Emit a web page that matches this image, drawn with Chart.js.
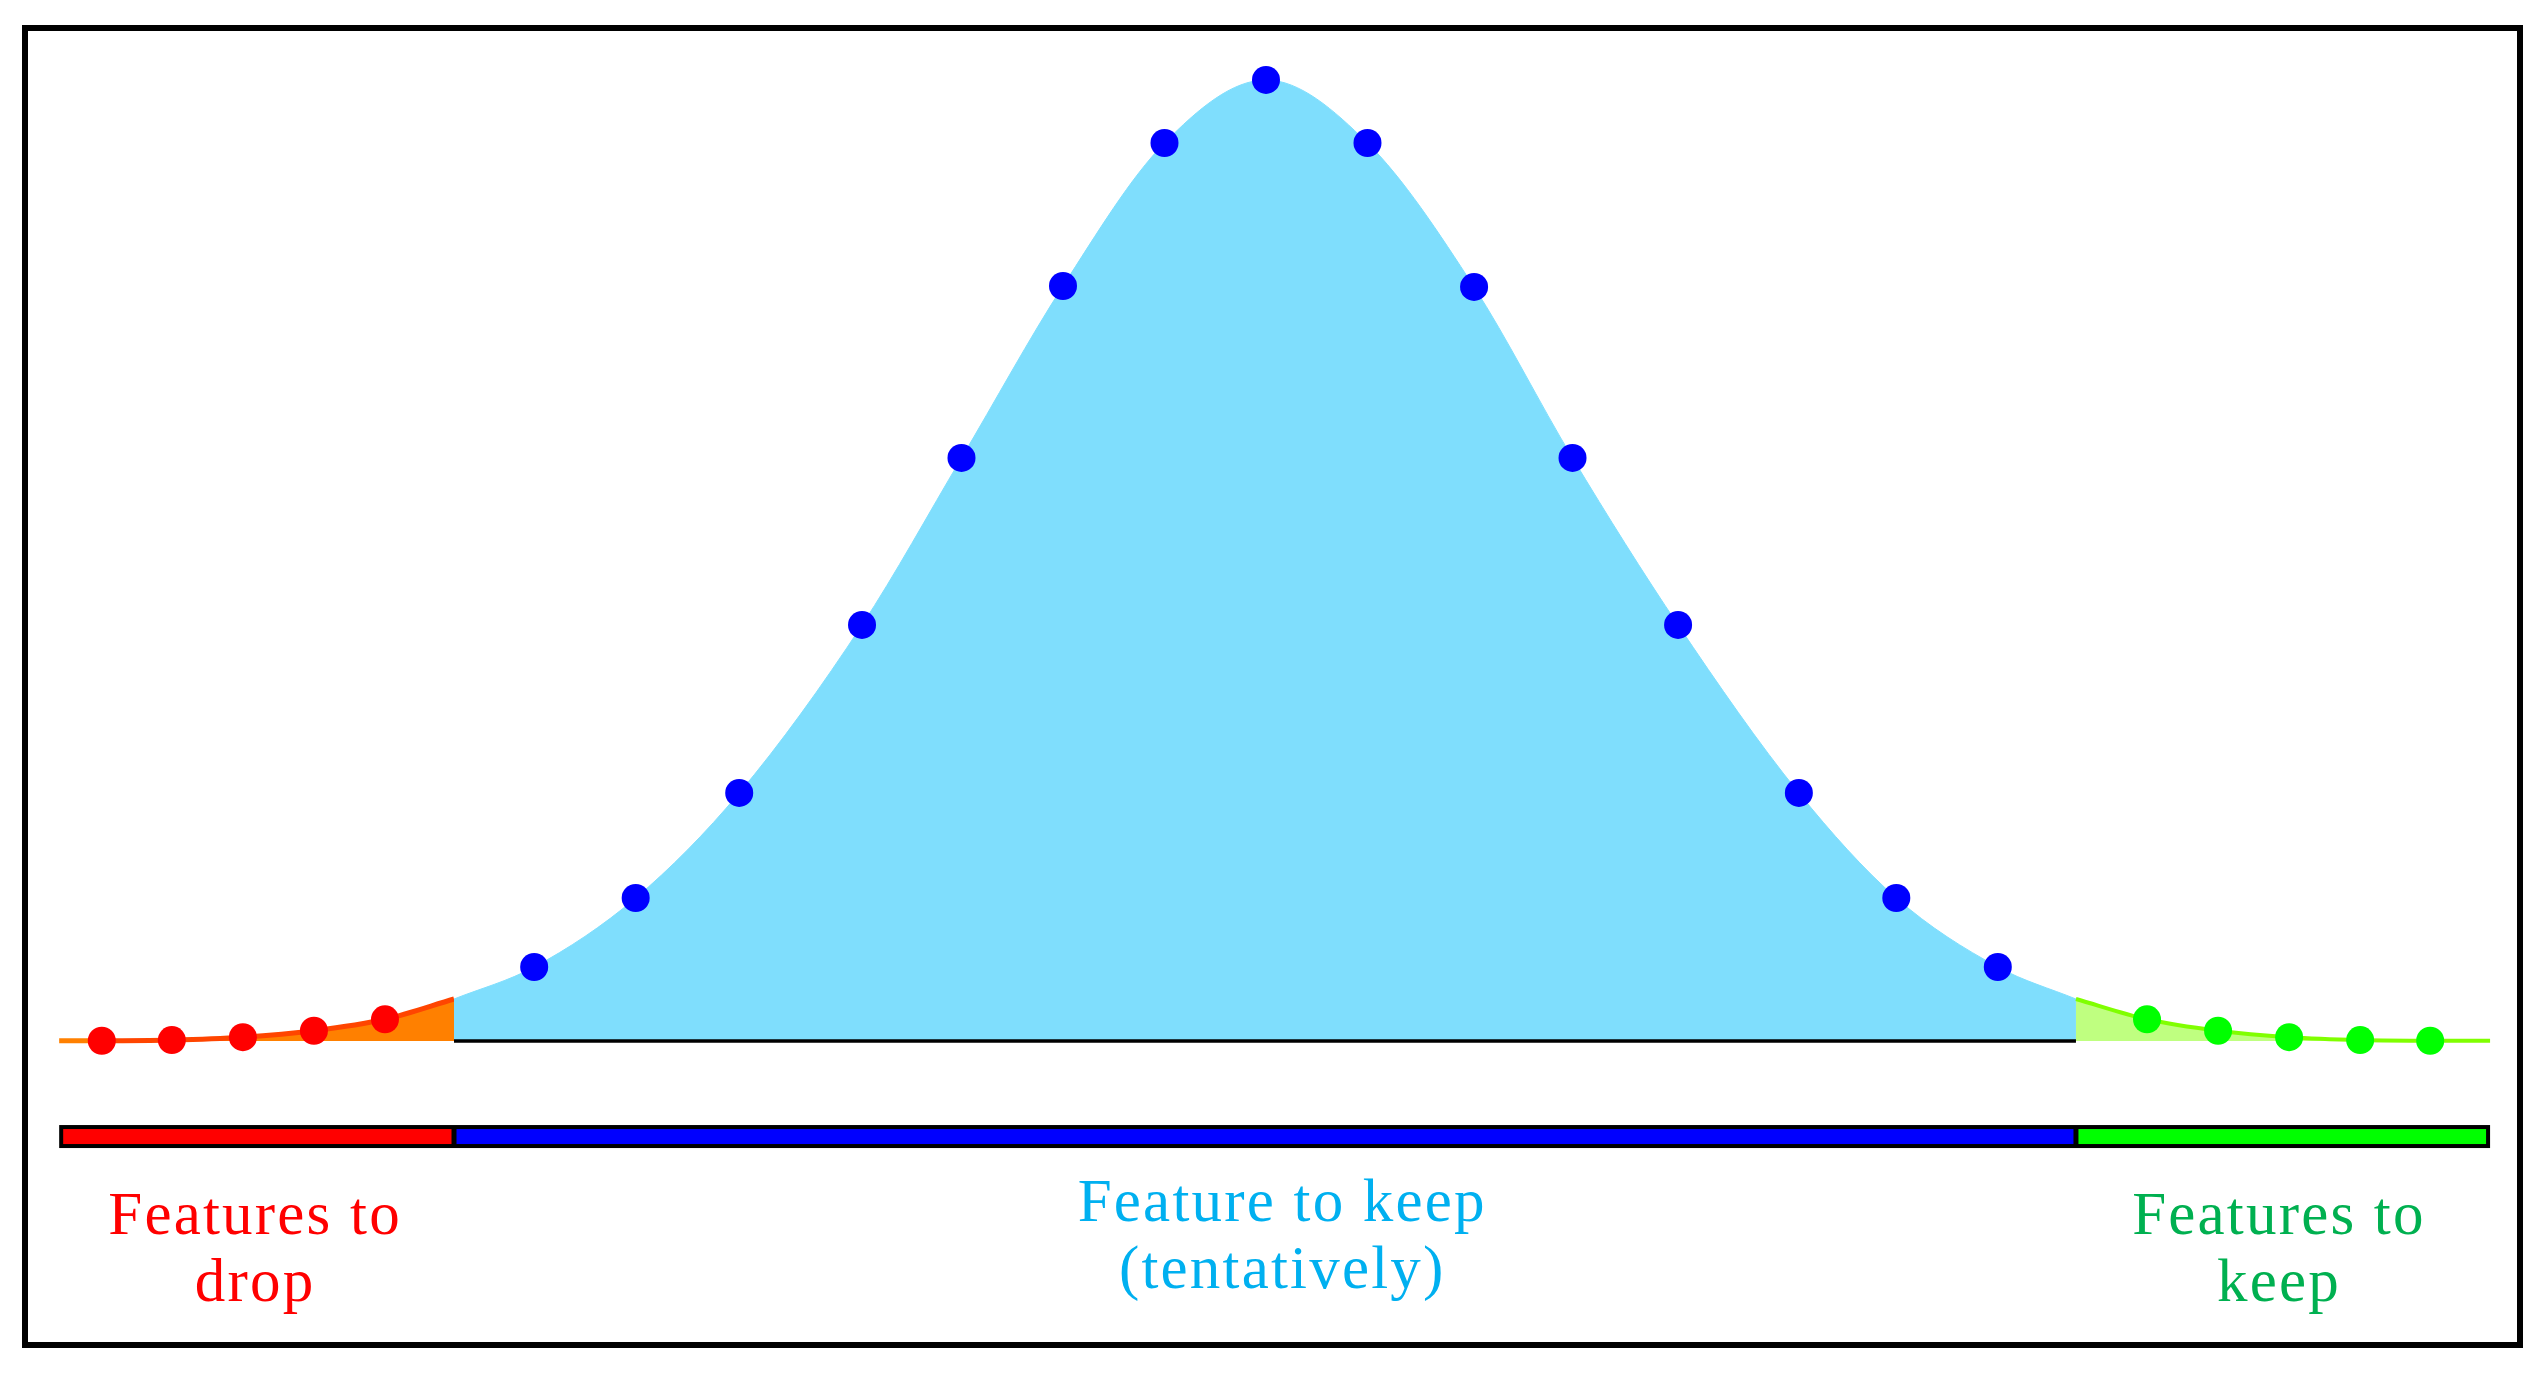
<!DOCTYPE html>
<html><head><meta charset="utf-8">
<script src="https://cdn.jsdelivr.net/npm/chart.js@4/dist/chart.umd.min.js"></script>
<style>
html,body{margin:0;padding:0;background:#fff;overflow:hidden}
#wrap{position:relative;width:2546px;height:1377px}
#frame{position:absolute;left:22px;top:25px;width:2489px;height:1311px;border:6px solid #000;pointer-events:none}
canvas{position:absolute;left:0;top:0}
</style></head>
<body><div id="wrap"><canvas id="c" width="2546" height="1377"></canvas><div id="frame"></div></div>
<script>
// ---- data (x: position along the feature scale, y: relative height, peak = 100)
const redX   = [-11.47, -10.78, -10.08, -9.38, -8.68];
const redY   = [0.03, 0.10, 0.40, 1.07, 2.26];
const blueX  = [-7.21, -6.21, -5.19, -3.98, -3.00, -2.00, -1.00, 0, 1.00, 2.05, 3.02, 4.06, 5.25, 6.21, 7.21];
const blueY  = [7.70, 14.88, 25.81, 43.29, 60.67, 78.56, 93.44, 100, 93.44, 78.46, 60.67, 43.29, 25.81, 14.88, 7.70];
const greenX = [8.68, 9.38, 10.08, 10.78, 11.47];
const greenY = [2.26, 1.07, 0.40, 0.10, 0.03];
const tailStart = {x: -11.89, y: 0.03};
const tailEnd   = {x: 12.06, y: 0.03};
const cutLow  = {x: -8.00, y: 4.37};
const cutHigh = {x: 7.98, y: 4.37};
const barY = -9.94;
const zoneNames = ['drop', 'keep (tentatively)', 'keep'];
const zoneLabels = [['Features to', 'drop'], ['Feature to keep', '(tentatively)'], ['Features to', 'keep']];
const labelX = [-9.97, 0.15, 9.97];
const labelY = [[-20.1, -27.1], [-18.7, -25.7], [-20.1, -27.1]];

const zip = (xs, ys) => xs.map((x, i) => ({x, y: ys[i]}));
const redPts = zip(redX, redY), bluePts = zip(blueX, blueY), greenPts = zip(greenX, greenY);

const zonePlugin = {
  id: 'zones',
  afterDatasetsDraw(chart) {
    const {ctx, scales: {x, y}} = chart;
    const xs = [tailStart.x, cutLow.x, cutHigh.x, tailEnd.x].map(v => x.getPixelForValue(v));
    const yc = y.getPixelForValue(barY);
    const half = 11.5, edge = 4, sep = 2.5;
    ctx.save();
    ctx.fillStyle = '#000';
    ctx.fillRect(xs[0], yc - half, xs[3] - xs[0], half * 2);
    const cols = ['#FF0000', '#0000FF', '#00FF00'];
    for (let i = 0; i < 3; i++) {
      const l = i === 0 ? xs[0] + edge : xs[i] + sep;
      const r = i === 2 ? xs[3] - edge : xs[i + 1] - sep;
      ctx.fillStyle = cols[i];
      ctx.fillRect(l, yc - half + edge, r - l, (half - edge) * 2);
    }
    const tcols = ['#FF0000', '#00B0F0', '#00B050'];
    ctx.font = '61px "Liberation Serif", "Times New Roman", serif';
    ctx.textAlign = 'center';
    ctx.textBaseline = 'alphabetic';
    try { ctx.letterSpacing = '2.2px'; } catch (e) {}
    for (let i = 0; i < 3; i++) {
      ctx.fillStyle = tcols[i];
      zoneLabels[i].forEach((t, j) => {
        ctx.fillText(t, x.getPixelForValue(labelX[i]) + 1, y.getPixelForValue(labelY[i][j]));
      });
    }
    ctx.restore();
  }
};

new Chart(document.getElementById('c'), {
  type: 'line',
  data: {
    datasets: [
      { label: 'drop area', data: [tailStart, ...redPts, cutLow], fill: 'origin',
        backgroundColor: '#FF8000', borderColor: '#FF4500', borderWidth: 5,
        segment: { borderColor: c => c.p0DataIndex === 0 ? '#FF8000' : '#FF4500' },
        cubicInterpolationMode: 'monotone', pointRadius: 0, order: 10, clip: false },
      { label: 'keep tentatively area', data: [cutLow, ...bluePts, cutHigh], fill: 'origin',
        backgroundColor: '#7FDEFD', borderColor: '#7FDEFD', borderWidth: 1,
        cubicInterpolationMode: 'monotone', pointRadius: 0, order: 9, clip: false },
      { label: 'keep area', data: [cutHigh, ...greenPts, tailEnd], fill: 'origin',
        backgroundColor: '#BFFF80', borderColor: '#80FF00', borderWidth: 4,
        cubicInterpolationMode: 'monotone', pointRadius: 0, order: 8, clip: false },
      { label: 'baseline', data: [{x: cutLow.x, y: 0}, {x: cutHigh.x, y: 0}], fill: false,
        borderColor: '#000', borderWidth: 3.5, pointRadius: 0, order: 5, clip: false },
      { label: 'drop', data: redPts, showLine: false, pointRadius: 14, pointBorderWidth: 0,
        pointBackgroundColor: '#FF0000', pointBorderColor: '#FF0000', order: 1, clip: false },
      { label: 'keep (tentatively)', data: bluePts, showLine: false, pointRadius: 14, pointBorderWidth: 0,
        pointBackgroundColor: '#0000FF', pointBorderColor: '#0000FF', order: 1, clip: false },
      { label: 'keep', data: greenPts, showLine: false, pointRadius: 14, pointBorderWidth: 0,
        pointBackgroundColor: '#00FF00', pointBorderColor: '#00FF00', order: 1, clip: false }
    ]
  },
  options: {
    responsive: false, animation: false, devicePixelRatio: 1,
    layout: { padding: 0, autoPadding: false },
    plugins: { legend: { display: false }, tooltip: { enabled: false } },
    scales: {
      x: { type: 'linear', min: -12.473, max: 12.611, display: false },
      y: { type: 'linear', min: -34.96, max: 108.32, display: false }
    }
  },
  plugins: [zonePlugin]
});
</script>
</body></html>
